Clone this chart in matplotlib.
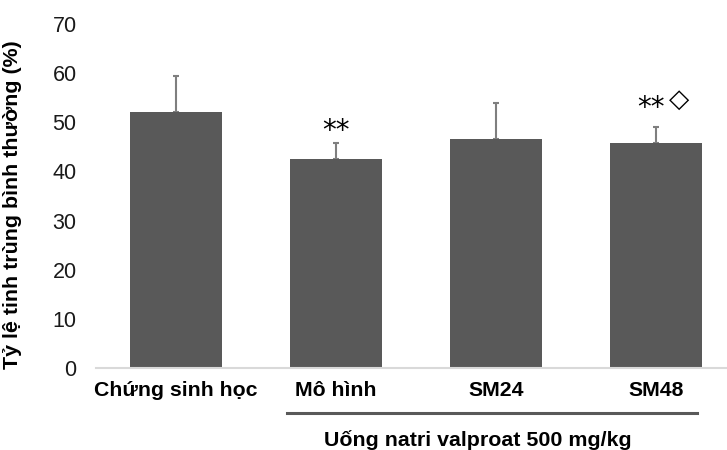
import matplotlib
matplotlib.use("Agg")
import matplotlib.pyplot as plt

categories = ["Chứng sinh học", "Mô hình", "SM24", "SM48"]
values = [52.0, 42.6, 46.7, 45.7]
errors = [7.4, 3.1, 7.3, 3.4]
annotations = ["", "**", "", "**"]
annot_extra = ["", "", "", "◇"]
yticks = [0, 10, 20, 30, 40, 50, 60, 70]
ylabel = "Tỷ lệ tinh trùng bình thường (%)"
group_label = "Uống natri valproat 500 mg/kg"

plt.rcParams['font.family'] = ['Liberation Sans', 'DejaVu Sans']

fig = plt.figure(figsize=(7.27, 4.5), dpi=100)
W, H = 727, 450
x0, x1 = 96, 736
y0, y1 = 368, 24
ax = fig.add_axes([x0 / W, 1 - y0 / H, (x1 - x0) / W, (y0 - y1) / H])

xs = list(range(len(categories)))
ax.bar(xs, values, width=0.57, color="#595959", zorder=2)
ax.errorbar(xs, values, yerr=[[0] * len(errors), errors], fmt="none",
            ecolor="#7f7f7f", elinewidth=1.5, capsize=2.5, capthick=1.5, zorder=1)

ax.set_xlim(-0.5, len(categories) - 0.5)
ax.set_ylim(0, 70)
ax.set_yticks(yticks)
ax.set_yticklabels([str(t) for t in yticks], fontsize=15.5, color="#1a1a1a")
ax.set_xticks(xs)
ax.set_xticklabels(categories, fontsize=15.3, fontweight="bold")
ax.tick_params(axis="both", length=0)
ax.tick_params(axis="x", pad=9)
ax.tick_params(axis="y", pad=14)
for s in ["top", "right", "left"]:
    ax.spines[s].set_visible(False)
ax.spines["bottom"].set_color("#d9d9d9")
ax.spines["bottom"].set_linewidth(1.5)

ax.set_ylabel(ylabel, fontsize=15.4, fontweight="bold")
ax.yaxis.set_label_coords(-74 / (x1 - x0), 0.475)

for i, (v, e, a, ex) in enumerate(zip(values, errors, annotations, annot_extra)):
    if a:
        off = 3.8 if ex else 2.55
        ax.text(i - (0.03 if ex else 0), v + e + off, a, ha="center", va="center",
                fontsize=20, family="DejaVu Sans")
    if ex:
        ax.text(i + 0.145, v + e + 5.4, ex, ha="center", va="center", fontsize=19,
                family="DejaVu Sans")

# group line
line_y = 1 - 413 / H
fig.add_artist(plt.Line2D([287 / W, 697 / W], [line_y, line_y], color="#595959",
                          lw=2.2, transform=fig.transFigure))
fig.text(478 / W, 1 - 440 / H, group_label, ha="center", va="center",
         fontsize=15.4, fontweight="bold")

fig.savefig("out.png", dpi=100)
